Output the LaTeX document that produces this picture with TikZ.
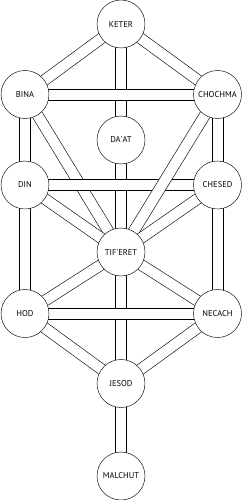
\documentclass[tikz,border=0pt]{standalone}
\usepackage{fontspec}
\setmainfont{PT Sans}
\usetikzlibrary{backgrounds,calc}
\newcommand\sefpath[2]{%
  \fill[white] ($(#1.center)!5.5pt!90:(#2.center)$) -- ($(#2.center)!5.5pt!-90:(#1.center)$)
     -- ($(#2.center)!5.5pt!90:(#1.center)$) -- ($(#1.center)!5.5pt!-90:(#2.center)$) -- cycle;
  \draw[chanline] ($(#1.center)!5.5pt!90:(#2.center)$) -- ($(#2.center)!5.5pt!-90:(#1.center)$)
     ($(#2.center)!5.5pt!90:(#1.center)$) -- ($(#1.center)!5.5pt!-90:(#2.center)$);}
\begin{document}
\begin{tikzpicture}[x=1pt,y=-1pt,
  sefira/.style={circle,draw=black,line width=0.45pt,fill=white,minimum size=48pt,inner sep=0pt,font=\fontsize{8.5}{9}\selectfont},
  chanline/.style={draw=black,line width=0.45pt}]
\useasboundingbox (0,0) rectangle (243,500);
\node[sefira] (keter) at (121,24) {KETER};
\node[sefira] (bina) at (25,94.5) {BINA};
\node[sefira] (chochma) at (217.5,94.5) {CHOCHMA};
\node[sefira] (daat) at (121,140) {DA\textquotesingle AT};
\node[sefira] (din) at (25,185) {DIN};
\node[sefira] (chesed) at (217.5,185) {CHESED};
\node[sefira] (tif) at (121,252) {TIF\textquotesingle ERET};
\node[sefira] (hod) at (25,313.5) {HOD};
\node[sefira] (necach) at (217.5,313.5) {NECACH};
\node[sefira] (jesod) at (121,383.5) {JESOD};
\node[sefira] (malchut) at (121,476) {MALCHUT};
\begin{scope}[on background layer]
  \sefpath{keter}{tif}
  \sefpath{keter}{bina}
  \sefpath{keter}{chochma}
  \sefpath{bina}{chochma}
  \sefpath{bina}{din}
  \sefpath{chochma}{chesed}
  \sefpath{bina}{tif}
  \sefpath{din}{chesed}
  \sefpath{chochma}{tif}
  \sefpath{din}{tif}
  \sefpath{chesed}{tif}
  \sefpath{din}{hod}
  \sefpath{chesed}{necach}
  \sefpath{tif}{jesod}
  \sefpath{tif}{hod}
  \sefpath{tif}{necach}
  \sefpath{hod}{necach}
  \sefpath{hod}{jesod}
  \sefpath{necach}{jesod}
  \sefpath{jesod}{malchut}
\end{scope}
\end{tikzpicture}
\end{document}
